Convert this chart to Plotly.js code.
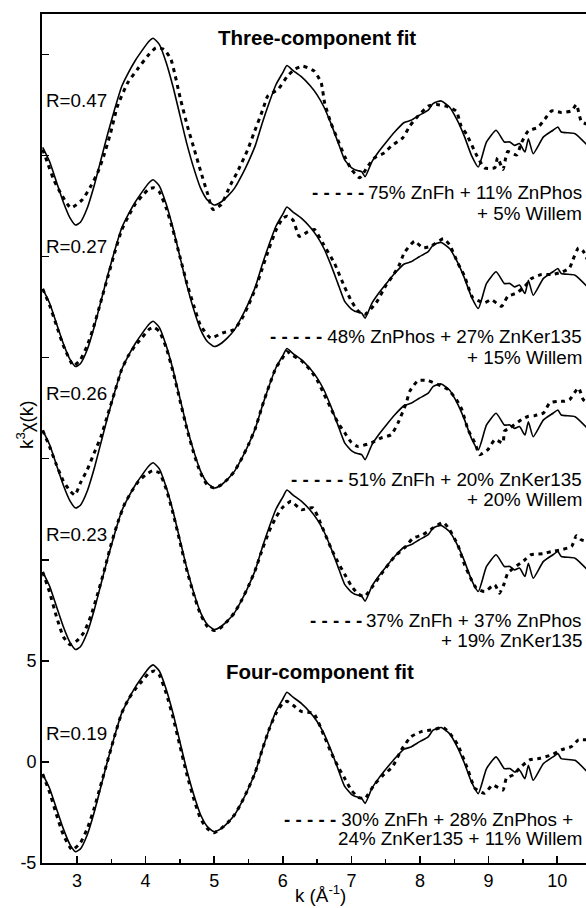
<!DOCTYPE html>
<html><head><meta charset="utf-8">
<script src="https://cdn.plot.ly/plotly-3.0.1.min.js"></script>
<style>html,body{margin:0;padding:0;background:#fff}#chart{width:586px;height:908px}</style>
</head><body><div id="chart"></div>
<script>
// Experimental k^3 chi(k) spectrum (same in every panel)
const kExp = [2.5,2.6,2.7,2.8,2.9,2.98,3.05,3.15,3.25,3.35,3.45,3.55,3.65,3.75,3.85,3.95,4.05,4.11,4.2,4.3,4.4,4.5,4.6,4.7,4.8,4.9,5.0,5.1,5.2,5.3,5.4,5.5,5.6,5.7,5.8,5.9,6.0,6.06,6.15,6.27,6.4,6.5,6.6,6.7,6.8,6.9,7.0,7.05,7.1,7.15,7.2,7.3,7.4,7.51,7.63,7.77,7.87,7.99,8.12,8.19,8.31,8.43,8.55,8.65,8.75,8.85,8.97,9.11,9.23,9.31,9.38,9.45,9.53,9.58,9.65,9.8,9.94,10.01,10.06,10.26,10.44];
const chiExp = [-0.6,-1.3,-2.3,-3.3,-4.1,-4.44,-4.3,-3.6,-2.5,-1.2,0.1,1.3,2.4,3.1,3.7,4.2,4.65,4.8,4.5,3.6,2.4,1.0,-0.4,-1.6,-2.6,-3.2,-3.45,-3.3,-3.0,-2.6,-2.0,-1.3,-0.5,0.6,1.6,2.5,3.1,3.45,3.2,2.9,2.45,2.0,1.4,0.6,-0.3,-1.2,-1.6,-1.7,-1.75,-1.8,-2.05,-1.3,-0.8,-0.33,0.16,0.63,0.74,0.99,1.24,1.57,1.7,1.4,0.7,-0.08,-0.99,-1.57,-0.33,0.25,-0.33,-0.33,-0.5,-0.41,-0.83,-0.17,-0.91,-0.08,0.25,0.41,0.16,0.08,-0.5];

// Fit 1: 75% ZnFh + 11% ZnPhos + 5% Willem
const kFit1 = [2.5,2.57,2.66,2.76,2.91,3.08,3.2,3.3,3.39,3.49,3.59,3.74,3.88,4.03,4.15,4.27,4.37,4.51,4.61,4.71,4.81,4.9,4.98,5.1,5.24,5.34,5.49,5.58,5.71,5.78,5.93,6.07,6.17,6.29,6.46,6.56,6.61,6.7,6.8,6.9,7.0,7.12,7.24,7.34,7.48,7.58,7.75,7.85,7.97,8.12,8.24,8.38,8.53,8.6,8.68,8.82,8.94,9.09,9.13,9.21,9.25,9.28,9.41,9.48,9.58,9.72,9.82,9.92,10.06,10.21,10.28,10.35,10.44];
const chiFit1 = [-0.7,-1.36,-2.19,-2.85,-3.59,-3.18,-2.52,-1.86,-1.03,0.12,1.44,2.6,3.26,3.92,4.33,4.25,3.75,1.77,0.45,-0.7,-1.86,-2.85,-3.67,-3.43,-2.44,-1.8,-0.7,0.12,1.28,1.94,2.27,2.93,3.26,3.42,3.17,2.6,1.6,0.62,-0.21,-1.03,-1.69,-2.1,-1.53,-1.11,-0.87,-0.54,-0.12,0.45,0.95,1.44,1.52,1.44,1.19,0.45,0.04,-0.95,-1.61,-1.61,-1.11,-1.69,-1.11,-0.8,-0.97,-0.36,0.22,0.39,0.8,1.21,1.13,1.21,1.52,0.7,0.53];

// Fit 2: 48% ZnPhos + 27% ZnKer135 + 15% Willem
const kFit2 = [2.5,2.6,2.7,2.8,2.95,3.05,3.15,3.25,3.35,3.45,3.55,3.65,3.75,3.85,3.95,4.05,4.12,4.2,4.3,4.4,4.5,4.6,4.7,4.8,4.95,5.12,5.29,5.4,5.5,5.6,5.7,5.8,5.9,6.0,6.06,6.15,6.24,6.35,6.46,6.58,6.75,6.9,7.0,7.1,7.2,7.36,7.51,7.6,7.7,7.77,7.92,8.04,8.16,8.34,8.43,8.55,8.65,8.7,8.77,8.94,9.04,9.19,9.28,9.41,9.53,9.62,9.77,9.92,10.06,10.18,10.23,10.31,10.38,10.44];
const chiFit2 = [-0.6,-1.4,-2.4,-3.4,-4.4,-4.1,-3.4,-2.4,-1.2,0.0,1.2,2.3,3.0,3.6,4.0,4.35,4.4,4.2,3.4,2.3,1.0,-0.3,-1.4,-2.4,-3.03,-2.78,-2.61,-2.1,-1.4,-0.6,0.4,1.4,2.3,2.9,3.0,2.8,2.0,2.2,2.34,1.68,0.69,-0.5,-1.2,-1.7,-1.85,-1.29,-0.39,0.03,0.6,1.18,1.76,1.43,1.51,1.88,1.59,0.69,0.03,-0.47,-1.04,-1.29,-1.13,-1.46,-0.97,-0.8,-0.47,-0.1,0.11,0.11,0.22,0.44,0.85,1.43,1.26,0.85];

// Fit 3: 51% ZnFh + 20% ZnKer135 + 20% Willem
const kFit3 = [2.5,2.6,2.7,2.8,2.9,2.97,3.05,3.15,3.25,3.35,3.45,3.55,3.65,3.75,3.85,3.95,4.05,4.12,4.2,4.3,4.4,4.5,4.6,4.7,4.8,4.9,5.0,5.1,5.2,5.3,5.4,5.5,5.6,5.7,5.8,5.9,6.0,6.06,6.15,6.27,6.4,6.5,6.6,6.7,6.8,6.9,7.0,7.09,7.29,7.43,7.58,7.68,7.8,7.85,7.97,8.12,8.29,8.41,8.53,8.61,8.7,8.8,8.87,8.99,9.09,9.21,9.23,9.31,9.48,9.58,9.67,9.8,9.89,10.01,10.11,10.18,10.31,10.38,10.44];
const chiFit3 = [-0.6,-1.4,-2.3,-3.1,-3.6,-3.8,-3.2,-2.54,-1.72,-0.9,0.2,1.3,2.4,3.1,3.6,4.0,4.4,4.5,4.3,3.5,2.3,0.9,-0.5,-1.7,-2.7,-3.3,-3.45,-3.3,-3.0,-2.6,-2.0,-1.3,-0.5,0.6,1.6,2.5,3.0,3.3,3.1,2.85,2.4,1.9,1.2,0.5,-0.2,-0.7,-1.2,-1.39,-1.22,-0.98,-0.81,-0.23,0.76,1.33,1.86,1.86,1.63,1.42,0.93,0.43,-0.56,-1.22,-1.8,-1.55,-1.06,-1.22,-0.64,-0.48,-0.07,0.10,0.13,0.26,0.76,0.84,0.84,0.92,1.5,0.92,0.76];

// Fit 4: 37% ZnFh + 37% ZnPhos + 19% ZnKer135
const kFit4 = [2.5,2.6,2.7,2.8,2.9,3.0,3.1,3.2,3.3,3.4,3.5,3.6,3.7,3.8,3.9,4.0,4.1,4.2,4.3,4.4,4.5,4.6,4.7,4.8,4.9,5.0,5.1,5.2,5.3,5.4,5.5,5.6,5.7,5.8,5.9,6.0,6.12,6.27,6.44,6.56,6.7,6.8,6.9,7.0,7.1,7.19,7.31,7.41,7.63,7.77,7.9,8.04,8.19,8.34,8.43,8.55,8.65,8.75,8.82,8.94,9.09,9.16,9.23,9.28,9.53,9.62,9.79,9.92,10.06,10.21,10.28,10.35,10.44];
const chiFit4 = [-0.6,-1.6,-2.8,-3.8,-4.2,-4.0,-3.6,-2.8,-1.7,-0.5,0.8,1.9,2.8,3.4,3.9,4.2,4.4,4.3,3.5,2.3,0.9,-0.5,-1.7,-2.7,-3.3,-3.5,-3.35,-3.0,-2.6,-2.0,-1.3,-0.5,0.5,1.4,2.1,2.6,2.89,2.48,2.57,1.73,0.6,-0.1,-0.7,-1.3,-1.7,-1.82,-1.32,-0.83,0.16,0.58,1.07,1.24,1.57,1.85,1.49,0.74,-0.25,-0.99,-1.4,-1.57,-1.24,-1.65,-1.15,-0.66,0.0,0.25,0.30,0.41,0.5,0.66,1.19,0.99,0.9];

// Fit 5 (four components): 30% ZnFh + 28% ZnPhos + 24% ZnKer135 + 11% Willem
const kFit5 = [2.5,2.6,2.7,2.8,2.93,3.05,3.15,3.25,3.35,3.45,3.55,3.65,3.75,3.85,3.95,4.05,4.13,4.2,4.3,4.4,4.5,4.6,4.7,4.8,4.9,5.0,5.1,5.2,5.3,5.4,5.5,5.6,5.7,5.8,5.9,6.0,6.06,6.15,6.27,6.45,6.6,6.7,6.8,6.9,7.0,7.1,7.2,7.33,7.45,7.6,7.73,7.87,8.02,8.2,8.34,8.45,8.55,8.7,8.8,8.94,9.06,9.21,9.26,9.36,9.45,9.6,9.75,9.92,10.06,10.21,10.31,10.43];
const chiFit5 = [-0.6,-1.5,-2.6,-3.6,-4.35,-4.0,-3.3,-2.3,-1.1,0.1,1.3,2.4,3.1,3.6,4.0,4.4,4.5,4.3,3.4,2.2,0.8,-0.6,-1.8,-2.8,-3.3,-3.5,-3.3,-3.0,-2.6,-2.0,-1.3,-0.5,0.6,1.6,2.4,2.9,3.0,2.8,2.5,2.4,1.3,0.5,-0.2,-0.8,-1.4,-1.75,-1.8,-1.14,-0.7,-0.23,0.6,1.25,1.5,1.6,1.7,1.35,0.85,-0.4,-1.3,-1.55,-1.14,-1.39,-0.8,-0.64,-0.31,0.1,0.18,0.35,0.6,0.76,1.09,1.09];

// Vertical offsets of the stacked spectra
const offsets = [31, 24, 17, 10, 0];

const rLabels = ['R=0.47', 'R=0.27', 'R=0.26', 'R=0.23', 'R=0.19'];
const fitLine1 = ['75% ZnFh + 11% ZnPhos', '48% ZnPhos + 27% ZnKer135', '51% ZnFh + 20% ZnKer135', '37% ZnFh + 37% ZnPhos', '30% ZnFh + 28% ZnPhos +'];
const fitLine2 = ['+ 5% Willem', '+ 15% Willem', '+ 20% Willem', '+ 19% ZnKer135', '24% ZnKer135 + 11% Willem'];
const groupTitles = ['Three-component fit', 'Four-component fit'];
const xTitle = 'k (Å<sup>-1</sup>)';
const yTitle = 'k<sup>3</sup>χ(k)';
const yTickVals = [-5, 0, 5, 10, 15, 20, 25, 30, 35];
const yTickText = ['-5', '0', '5', '', '', '', '', '', ''];

const kFits = [kFit1, kFit2, kFit3, kFit4, kFit5];
const chiFits = [chiFit1, chiFit2, chiFit3, chiFit4, chiFit5];

// ---- layout helpers (pixel -> paper) ----
const W = 586, H = 908, ML = 42, MR = 0, MT = 14, MB = 45;
const PW = W - ML - MR, PH = H - MT - MB;
const px = x => (x - ML) / PW;
const py = y => (H - MB - y) / PH;
const FONT = 'Liberation Sans, Arial, Helvetica, sans-serif';

const traces = [];
for (let i = 0; i < 5; i++) {
  traces.push({
    x: kExp, y: chiExp.map(v => v + offsets[i]), type: 'scatter', mode: 'lines',
    line: {color: '#000', width: 1.6, shape: 'spline', smoothing: 0.5},
    showlegend: false, hoverinfo: 'skip'
  });
  traces.push({
    x: kFits[i], y: chiFits[i].map(v => v + offsets[i]), type: 'scatter', mode: 'lines',
    line: {color: '#000', width: 3, dash: '4px,4.5px', shape: 'spline', smoothing: 0.5},
    showlegend: false, hoverinfo: 'skip'
  });
}

const rY = [100, 247, 394, 534, 733];
const l1Y = [192, 336, 479, 620, 819];
const l2Y = [213, 357.5, 499, 641, 838];
const dashGap = ['\u2009', ' ', ' ', '\u2009'];
const TS = 18.8;
const ann = [];
function A(text, x, y, xa, extra) {
  ann.push(Object.assign({text: text, xref: 'paper', yref: 'paper', x: px(x), y: py(y),
    xanchor: xa, yanchor: 'middle', showarrow: false, borderpad: 0, borderwidth: 0,
    font: {family: FONT, size: TS, color: '#000'}}, extra || {}));
}
A('<b>' + groupTitles[0] + '</b>', 316.5, 38, 'center', {font: {family: FONT, size: 20.5, color: '#000'}});
A('<b>' + groupTitles[1] + '</b>', 319.5, 671, 'center', {font: {family: FONT, size: 20.5, color: '#000'}});
for (let i = 0; i < 5; i++) A(rLabels[i], 46, rY[i], 'left');
const dashes = '<b>- - - - -</b>';
for (let i = 0; i < 4; i++) {
  A(dashes + dashGap[i] + fitLine1[i], 582, l1Y[i], 'right');
  A(fitLine2[i], 582, l2Y[i], 'right');
}
A(dashes + ' ' + fitLine1[4], 284, l1Y[4], 'left');
A(fitLine2[4], 338, l2Y[4], 'left');
A(yTitle, 25, 425, 'center', {textangle: -90});
A(xTitle, 320, 894, 'center');

const layout = {
  width: W, height: H,
  margin: {l: ML, r: MR, t: MT, b: MB, pad: 0},
  paper_bgcolor: '#fff', plot_bgcolor: '#fff',
  font: {family: FONT, size: 18, color: '#000'},
  showlegend: false,
  xaxis: {
    range: [2.49, 10.42], showline: true, linecolor: '#000', linewidth: 2, mirror: true,
    ticks: 'inside', ticklen: 7, tickwidth: 1.5, tickcolor: '#000', dtick: 1, tick0: 0,
    minor: {ticks: 'inside', ticklen: 4, tickwidth: 1.5, tickcolor: '#000', dtick: 0.5, tick0: 0, showgrid: false},
    showgrid: false, zeroline: false, tickfont: {family: FONT, size: 18, color: '#000'}
  },
  yaxis: {
    range: [-5, 37], showline: true, linecolor: '#000', linewidth: 2,
    ticks: 'inside', ticklen: 7, tickwidth: 1.5, tickcolor: '#000',
    tickmode: 'array', tickvals: yTickVals, ticktext: yTickText,
    showgrid: false, zeroline: false, tickfont: {family: FONT, size: 18, color: '#000'}
  },
  annotations: ann
};
Plotly.newPlot('chart', traces, layout, {staticPlot: true, displayModeBar: false});
</script>
</body></html>
